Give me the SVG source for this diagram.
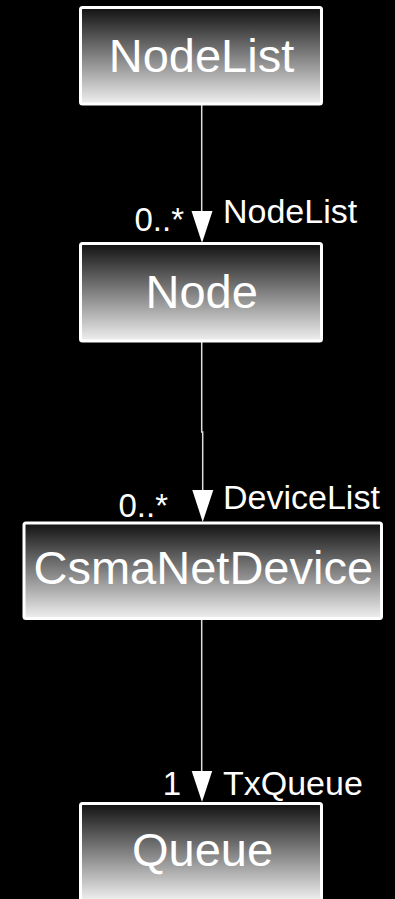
<svg xmlns="http://www.w3.org/2000/svg" width="395" height="899" viewBox="0 0 395 899">
  <defs>
    <linearGradient id="boxFill" x1="0" y1="0" x2="0" y2="1">
      <stop offset="0" stop-color="#111111"/>
      <stop offset="1" stop-color="#f0f0f0"/>
    </linearGradient>
  </defs>
  <style>
    .box { fill: url(#boxFill); stroke: #ffffff; stroke-width: 3; }
    .name { font-family: "Liberation Sans", Arial, sans-serif; font-size: 47px; fill: #ffffff; text-anchor: middle; }
    .role { font-family: "Liberation Sans", Arial, sans-serif; font-size: 34px; fill: #ffffff; }
    .mult { font-family: "Liberation Sans", Arial, sans-serif; font-size: 33px; fill: #ffffff; text-anchor: end; }
    .link { stroke: #dddddd; stroke-width: 1.5; fill: none; }
    .head { fill: #ffffff; }
  </style>
  <rect width="395" height="899" fill="#000000"/>

  <!-- associations -->
  <g id="connectors">
    <line class="link" x1="201.7" y1="105" x2="201.7" y2="212"/>
    <polygon class="head" points="191.5,211 212.5,211 202,243"/>
    <text class="mult" x="184" y="231">0..*</text>
    <text class="role" x="223" y="223">NodeList</text>

    <polyline class="link" points="201.7,342 201.7,432 202.7,432 202.7,491"/>
    <polygon class="head" points="192.3,490 213.3,490 202.7,522"/>
    <text class="mult" x="168" y="517">0..*</text>
    <text class="role" x="223" y="509">DeviceList</text>

    <line class="link" x1="201.7" y1="620" x2="201.7" y2="772"/>
    <polygon class="head" points="191.7,771 212.2,771 202,802"/>
    <text class="mult" x="181" y="795">1</text>
    <text class="role" x="223" y="795">TxQueue</text>
  </g>

  <g id="nodelist">
    <rect class="box" x="80.5" y="7.5" width="241" height="96.5" rx="2"/>
    <text class="name" x="201.5" y="72">NodeList</text>
  </g>

  <g id="node">
    <rect class="box" x="80.5" y="243.5" width="241" height="97.5" rx="2"/>
    <text class="name" x="201.7" y="308">Node</text>
  </g>

  <g id="csmanetdevice">
    <rect class="box" x="24" y="523" width="357.5" height="95.5" rx="2"/>
    <text class="name" x="203.3" y="584">CsmaNetDevice</text>
  </g>

  <g id="queue">
    <rect class="box" x="80.5" y="803.5" width="241" height="97" rx="2"/>
    <text class="name" x="202.5" y="866">Queue</text>
  </g>
</svg>
